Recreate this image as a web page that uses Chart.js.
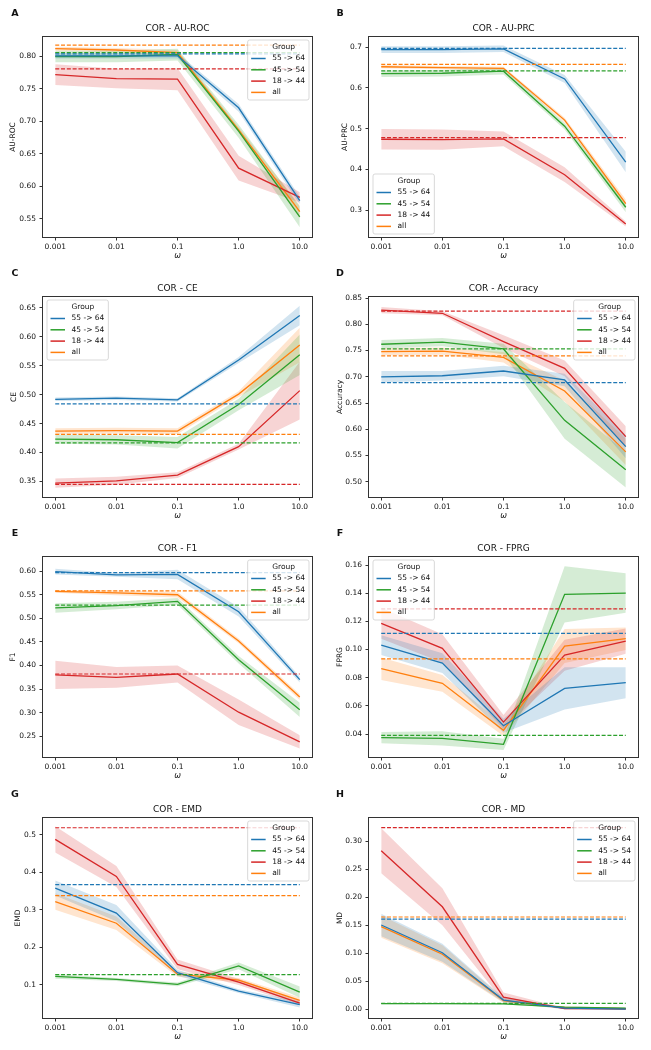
<!DOCTYPE html>
<html>
<head>
<meta charset="utf-8">
<script src="https://cdn.jsdelivr.net/npm/chart.js@4.4.0/dist/chart.umd.min.js"></script>
<style>
  body { margin: 0; background: #fff; }
  #fig { position: relative; width: 651px; height: 1050px; background: #fff; }
  .panel { position: absolute; }
</style>
</head>
<body>
<div id="fig"></div>
<script>
// ---- data ----
const omegaLabels = ['0.001', '0.01', '0.1', '1.0', '10.0'];
const groups = ['55 -> 64', '45 -> 54', '18 -> 44', 'all'];
const legendTitle = 'Group';

// rows: 55->64, 45->54, 18->44, all
const aurocMean = [
  [0.801, 0.801, 0.801, 0.721, 0.578],
  [0.800, 0.800, 0.803, 0.685, 0.553],
  [0.772, 0.766, 0.765, 0.628, 0.583],
  [0.812, 0.810, 0.806, 0.687, 0.561]
];
const aurocErr = [
  [0.004, 0.004, 0.004, 0.006, 0.006],
  [0.009, 0.009, 0.009, 0.010, 0.016],
  [0.016, 0.015, 0.017, 0.019, 0.008],
  [0.003, 0.003, 0.004, 0.004, 0.010]
];
const aurocBase = [0.804, 0.806, 0.781, 0.8175];
const aurocTicks = ['0.55', '0.60', '0.65', '0.70', '0.75', '0.80'];

const auprcMean = [
  [0.694, 0.694, 0.696, 0.622, 0.418],
  [0.635, 0.636, 0.641, 0.506, 0.307],
  [0.474, 0.473, 0.475, 0.387, 0.266],
  [0.652, 0.650, 0.648, 0.521, 0.316]
];
const auprcErr = [
  [0.008, 0.008, 0.008, 0.010, 0.025],
  [0.008, 0.008, 0.008, 0.008, 0.012],
  [0.025, 0.025, 0.018, 0.018, 0.006],
  [0.004, 0.004, 0.004, 0.006, 0.010]
];
const auprcBase = [0.697, 0.642, 0.478, 0.658];
const auprcTicks = ['0.3', '0.4', '0.5', '0.6', '0.7'];

const ceMean = [
  [0.492, 0.494, 0.491, 0.560, 0.637],
  [0.423, 0.422, 0.417, 0.483, 0.569],
  [0.347, 0.351, 0.361, 0.410, 0.507],
  [0.437, 0.438, 0.437, 0.501, 0.586]
];
const ceErr = [
  [0.003, 0.003, 0.003, 0.005, 0.017],
  [0.008, 0.008, 0.010, 0.010, 0.035],
  [0.008, 0.007, 0.005, 0.005, 0.050],
  [0.005, 0.005, 0.005, 0.005, 0.030]
];
const ceBase = [0.484, 0.4165, 0.345, 0.4315];
const ceTicks = ['0.35', '0.40', '0.45', '0.50', '0.55', '0.60', '0.65'];

const accMean = [
  [0.700, 0.702, 0.711, 0.694, 0.567],
  [0.762, 0.766, 0.753, 0.617, 0.523],
  [0.827, 0.821, 0.767, 0.716, 0.586],
  [0.748, 0.749, 0.737, 0.673, 0.557]
];
const accErr = [
  [0.011, 0.009, 0.010, 0.012, 0.022],
  [0.008, 0.008, 0.010, 0.035, 0.034],
  [0.006, 0.004, 0.012, 0.015, 0.020],
  [0.007, 0.007, 0.010, 0.020, 0.025]
];
const accBase = [0.689, 0.753, 0.825, 0.740];
const accTicks = ['0.50', '0.55', '0.60', '0.65', '0.70', '0.75', '0.80', '0.85'];

const f1Mean = [
  [0.599, 0.592, 0.593, 0.514, 0.370],
  [0.522, 0.527, 0.536, 0.412, 0.306],
  [0.380, 0.375, 0.382, 0.301, 0.238],
  [0.557, 0.554, 0.550, 0.452, 0.333]
];
const f1Err = [
  [0.006, 0.004, 0.010, 0.010, 0.006],
  [0.010, 0.008, 0.007, 0.008, 0.015],
  [0.030, 0.022, 0.018, 0.027, 0.014],
  [0.003, 0.005, 0.006, 0.005, 0.006]
];
const f1Base = [0.597, 0.528, 0.382, 0.558];
const f1Ticks = ['0.25', '0.30', '0.35', '0.40', '0.45', '0.50', '0.55', '0.60'];

const fprgMean = [
  [0.1032, 0.0904, 0.0459, 0.0724, 0.0765],
  [0.0374, 0.0369, 0.0327, 0.1392, 0.1401],
  [0.1186, 0.1008, 0.0485, 0.0960, 0.1060],
  [0.0864, 0.0760, 0.0426, 0.1025, 0.1077]
];
const fprgErr = [
  [0.007, 0.007, 0.005, 0.015, 0.011],
  [0.004, 0.005, 0.004, 0.020, 0.014],
  [0.011, 0.010, 0.005, 0.011, 0.009],
  [0.008, 0.006, 0.004, 0.012, 0.008]
];
const fprgBase = [0.1115, 0.039, 0.1288, 0.0933];
const fprgTicks = ['0.04', '0.06', '0.08', '0.10', '0.12', '0.14', '0.16'];

const emdMean = [
  [0.358, 0.291, 0.132, 0.083, 0.047],
  [0.122, 0.114, 0.101, 0.150, 0.080],
  [0.488, 0.389, 0.154, 0.107, 0.051],
  [0.322, 0.264, 0.128, 0.112, 0.058]
];
const emdErr = [
  [0.020, 0.022, 0.008, 0.005, 0.008],
  [0.006, 0.004, 0.005, 0.009, 0.015],
  [0.035, 0.028, 0.013, 0.008, 0.006],
  [0.022, 0.018, 0.007, 0.006, 0.008]
];
const emdBase = [0.367, 0.127, 0.519, 0.338];
const emdTicks = ['0.1', '0.2', '0.3', '0.4', '0.5'];

const mdMean = [
  [0.1505, 0.101, 0.0165, 0.0023, 0.0005],
  [0.010, 0.010, 0.0097, 0.004, 0.002],
  [0.283, 0.183, 0.0218, 0.0011, 0.001],
  [0.1476, 0.0983, 0.0153, 0.003, 0.001]
];
const mdErr = [
  [0.020, 0.016, 0.004, 0.002, 0.001],
  [0.001, 0.001, 0.001, 0.001, 0.001],
  [0.040, 0.033, 0.008, 0.001, 0.001],
  [0.020, 0.016, 0.004, 0.002, 0.001]
];
const mdBase = [0.161, 0.0106, 0.3243, 0.1648];
const mdTicks = ['0.00', '0.05', '0.10', '0.15', '0.20', '0.25', '0.30'];

// ---- styling / layout ----
const colors = ['#1f77b4', '#2ca02c', '#d62728', '#ff7f0e'];
const bands = ['rgba(31,119,180,0.2)', 'rgba(44,160,44,0.2)', 'rgba(214,39,40,0.2)', 'rgba(255,127,14,0.2)'];
const AXIS = '#333';
const TEXT = '#111';
const FONT = '"DejaVu Sans", sans-serif';
const rowTops = [0, 260, 520, 781];

const panels = [
  { letter: 'A', title: 'COR - AU-ROC', ylabel: 'AU-ROC', mean: aurocMean, err: aurocErr, base: aurocBase, ticks: aurocTicks, ymin: 0.522, ymax: 0.830, legend: 'ur', col: 0, row: 0, labelX: 13.3 },
  { letter: 'B', title: 'COR - AU-PRC', ylabel: 'AU-PRC', mean: auprcMean, err: auprcErr, base: auprcBase, ticks: auprcTicks, ymin: 0.234, ymax: 0.725, legend: 'll', col: 1, row: 0, labelX: 20 },
  { letter: 'C', title: 'COR - CE', ylabel: 'CE', mean: ceMean, err: ceErr, base: ceBase, ticks: ceTicks, ymin: 0.323, ymax: 0.669, legend: 'ul', col: 0, row: 1, labelX: 14 },
  { letter: 'D', title: 'COR - Accuracy', ylabel: 'Accuracy', mean: accMean, err: accErr, base: accBase, ticks: accTicks, ymin: 0.471, ymax: 0.852, legend: 'ur', col: 1, row: 1, labelX: 15 },
  { letter: 'E', title: 'COR - F1', ylabel: 'F1', mean: f1Mean, err: f1Err, base: f1Base, ticks: f1Ticks, ymin: 0.206, ymax: 0.630, legend: 'ur', col: 0, row: 2, labelX: 13.3 },
  { letter: 'F', title: 'COR - FPRG', ylabel: 'FPRG', mean: fprgMean, err: fprgErr, base: fprgBase, ticks: fprgTicks, ymin: 0.0237, ymax: 0.1657, legend: 'ul', col: 1, row: 2, labelX: 15 },
  { letter: 'G', title: 'COR - EMD', ylabel: 'EMD', mean: emdMean, err: emdErr, base: emdBase, ticks: emdTicks, ymin: 0.011, ymax: 0.545, legend: 'ur', col: 0, row: 3, labelX: 18 },
  { letter: 'H', title: 'COR - MD', ylabel: 'MD', mean: mdMean, err: mdErr, base: mdBase, ticks: mdTicks, ymin: -0.0155, ymax: 0.3415, legend: 'ur', col: 1, row: 3, labelX: 15 }
];

// frame, title, panel letter and the in-axes legend
const panelDecor = {
  id: 'panelDecor',
  afterDraw(chart, args, opts) {
    const ctx = chart.ctx, a = chart.chartArea;
    ctx.save();
    ctx.strokeStyle = AXIS;
    ctx.lineWidth = 1;
    ctx.strokeRect(Math.round(a.left) - 0.5, Math.round(a.top) - 0.5,
      Math.round(a.right - a.left) + 1, Math.round(a.bottom - a.top) + 1);

    ctx.fillStyle = TEXT;
    ctx.textAlign = 'center';
    ctx.textBaseline = 'middle';
    ctx.font = '9px ' + FONT;
    ctx.fillText(opts.title, (a.left + a.right) / 2, a.top - 8);
    ctx.font = 'bold 9.5px ' + FONT;
    ctx.fillText(opts.letter, 15, 13.5);

    // legend box
    ctx.font = '7.5px ' + FONT;
    const rowH = 11.3;
    const textW = Math.max(...[legendTitle, ...groups].map(t => ctx.measureText(t).width));
    const w = 25 + textW + 3.5, h = 60;
    let x, y;
    if (opts.legend === 'ur') { x = a.right - 3.5 - w; y = a.top + 2.5; }
    else if (opts.legend === 'ul') { x = a.left + 3.5; y = a.top + 2.5; }
    else { x = a.left + 3.5; y = a.bottom - 3.5 - h; }
    ctx.beginPath();
    ctx.roundRect(x + 0.5, y + 0.5, w, h, 2);
    ctx.fillStyle = 'rgba(255,255,255,0.8)';
    ctx.fill();
    ctx.strokeStyle = '#cfcfcf';
    ctx.lineWidth = 0.8;
    ctx.stroke();
    ctx.textAlign = 'left';
    ctx.fillStyle = TEXT;
    ctx.fillText(legendTitle, x + 25, y + 7.7);
    groups.forEach((g, i) => {
      const cy = y + 7.7 + rowH * (i + 1);
      ctx.strokeStyle = colors[i];
      ctx.lineWidth = 1.5;
      ctx.beginPath();
      ctx.moveTo(x + 4, cy);
      ctx.lineTo(x + 18.5, cy);
      ctx.stroke();
      ctx.fillText(g, x + 25, cy);
    });
    ctx.restore();
  }
};

const fig = document.getElementById('fig');

panels.forEach(p => {
  const width = p.col === 0 ? 325 : 326;
  const div = document.createElement('div');
  div.className = 'panel';
  div.style.left = (p.col === 0 ? 0 : 325) + 'px';
  div.style.top = rowTops[p.row] + 'px';
  div.style.width = width + 'px';
  div.style.height = '262px';
  const canvas = document.createElement('canvas');
  canvas.width = width;
  canvas.height = 262;
  div.appendChild(canvas);
  fig.appendChild(div);

  const datasets = [];
  groups.forEach((g, i) => {
    const m = p.mean[i], e = p.err[i];
    datasets.push({
      label: g + ' hi',
      data: m.map((v, k) => ({ x: k, y: v + e[k] })),
      borderWidth: 0, pointRadius: 0, backgroundColor: bands[i], fill: '+1', order: 3
    });
    datasets.push({
      label: g + ' lo',
      data: m.map((v, k) => ({ x: k, y: v - e[k] })),
      borderWidth: 0, pointRadius: 0, fill: false, order: 3
    });
    datasets.push({
      label: g,
      data: m.map((v, k) => ({ x: k, y: v })),
      borderColor: colors[i], borderWidth: 1.3, pointRadius: 0, fill: false, order: 2
    });
    datasets.push({
      label: g + ' baseline',
      data: [{ x: 0, y: p.base[i] }, { x: omegaLabels.length - 1, y: p.base[i] }],
      borderColor: colors[i], borderWidth: 1.2, borderDash: [4, 1.8], pointRadius: 0, fill: false, order: 1
    });
  });

  const tickFont = { family: FONT, size: 7.5 };
  new Chart(canvas, {
    type: 'line',
    data: { datasets },
    plugins: [panelDecor],
    options: {
      responsive: false,
      animation: false,
      layout: { padding: { left: 0, right: width - (p.col === 0 ? 312 : 313), top: 37, bottom: 0 } },
      elements: { line: { tension: 0 } },
      plugins: {
        legend: { display: false },
        tooltip: { enabled: false },
        panelDecor: { title: p.title, letter: p.letter, legend: p.legend }
      },
      scales: {
        x: {
          type: 'linear',
          min: -0.2,
          max: omegaLabels.length - 0.8,
          afterBuildTicks: s => { s.ticks = omegaLabels.map((_, k) => ({ value: k })); },
          afterFit: s => { s.height = 25; },
          ticks: { font: tickFont, color: TEXT, padding: 2, maxRotation: 0, callback: v => omegaLabels[v] },
          grid: { display: true, drawOnChartArea: false, drawTicks: true, tickLength: 3.5, color: AXIS },
          border: { display: false },
          title: { display: true, text: 'ω', font: { family: FONT, size: 8, style: 'italic' }, color: TEXT, padding: { top: 0, bottom: 1 } }
        },
        y: {
          type: 'linear',
          bounds: 'data',
          min: p.ymin,
          max: p.ymax,
          afterBuildTicks: s => { s.ticks = p.ticks.map(t => ({ value: parseFloat(t) })); },
          afterFit: s => { s.width = p.col === 0 ? 43 : 44; },
          ticks: { font: tickFont, color: TEXT, padding: 3.5, callback: (v, i) => p.ticks[i] },
          grid: { display: true, drawOnChartArea: false, drawTicks: true, tickLength: 3.5, color: AXIS },
          border: { display: false },
          title: { display: true, text: p.ylabel, font: { family: FONT, size: 7.5 }, color: TEXT, padding: { top: p.labelX - 4.5, bottom: 0 } }
        }
      }
    }
  });
});
</script>
</body>
</html>
